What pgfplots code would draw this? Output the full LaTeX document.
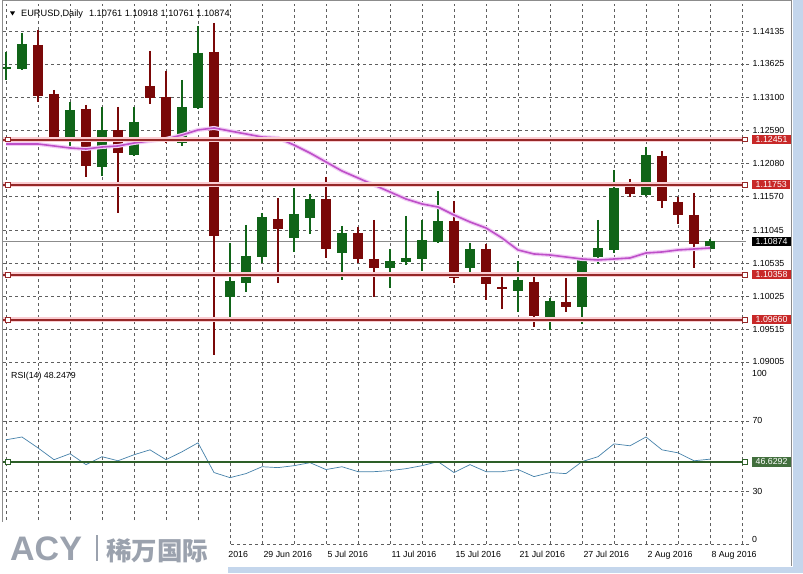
\documentclass[border=0pt]{standalone}
\usepackage{pgfplots}
\pgfplotsset{compat=1.18}
\usepackage{pgfplotstable}
\usepackage{fontspec}
\setmainfont{Liberation Sans}
\newfontfamily\cjk{Noto Sans CJK SC}
\newcommand\lbl{\fontsize{8.8}{10}\selectfont}

\definecolor{upc}{RGB}{16,100,24}
\definecolor{dnc}{RGB}{122,8,8}
\definecolor{lvl}{RGB}{150,40,40}
\definecolor{lvlglow}{RGB}{250,205,210}
\definecolor{lvlbox}{RGB}{200,40,40}
\definecolor{maline}{RGB}{190,80,200}
\definecolor{maglow}{RGB}{242,205,246}
\definecolor{rsil}{RGB}{70,130,170}
\definecolor{rsig}{RGB}{45,95,40}
\definecolor{gridc}{RGB}{95,95,95}
\definecolor{wm}{RGB}{155,162,174}
\definecolor{frameblue}{RGB}{196,214,236}

% candles: i open high low close
\pgfplotstableread{
i O H L C
0 1.13546 1.13810 1.13376 1.13577
1 1.13546 1.14104 1.13530 1.13934
4 1.12477 1.13035 1.12337 1.12911
6 1.12027 1.12957 1.11888 1.12601
8 1.12213 1.12957 1.12200 1.12725
11 1.12399 1.13376 1.12353 1.12957
12 1.12942 1.14213 1.12930 1.13794
14 1.10012 1.10849 1.09687 1.10260
15 1.10229 1.11128 1.10090 1.10648
16 1.10632 1.11314 1.10539 1.11252
18 1.10927 1.11702 1.10710 1.11299
19 1.11237 1.11609 1.10989 1.11531
21 1.10694 1.11113 1.10276 1.11004
24 1.10462 1.10756 1.10152 1.10570
25 1.10555 1.11268 1.10508 1.10617
26 1.10601 1.11206 1.10415 1.10896
27 1.10865 1.11655 1.10850 1.11190
29 1.10462 1.10849 1.10369 1.10756
32 1.10105 1.10570 1.09780 1.10276
34 1.09702 1.09997 1.09501 1.09950
36 1.09857 1.10632 1.09594 1.10601
37 1.10632 1.11206 1.10524 1.10772
38 1.10741 1.11981 1.10694 1.11702
40 1.11593 1.12337 1.11580 1.12213
44 1.10761 1.10918 1.10761 1.10874
}\upbars

\pgfplotstableread{
i O H L C
2 1.13918 1.14151 1.13035 1.13128
3 1.13159 1.13221 1.12477 1.12492
5 1.12926 1.12988 1.11872 1.12043
7 1.12601 1.12957 1.11314 1.12244
9 1.13283 1.13825 1.13004 1.13097
10 1.13112 1.13515 1.12400 1.12415
13 1.13810 1.14259 1.09113 1.10958
17 1.11221 1.11547 1.10229 1.11066
20 1.11531 1.11872 1.10617 1.10756
22 1.11004 1.11097 1.10539 1.10601
23 1.10601 1.11206 1.10012 1.10462
28 1.11190 1.11500 1.10229 1.10307
30 1.10756 1.10834 1.09966 1.10214
31 1.10167 1.10322 1.09826 1.10136
33 1.10245 1.10400 1.09547 1.09718
35 1.09935 1.10307 1.09780 1.09857
39 1.11733 1.11841 1.11562 1.11609
41 1.12198 1.12275 1.11392 1.11500
42 1.11485 1.11562 1.11144 1.11283
43 1.11283 1.11624 1.10462 1.10834
}\downbars

% moving average
\pgfplotstableread{
i v
0 1.12384
1 1.12384
2 1.12384
3 1.12353
4 1.12322
5 1.12306
6 1.12337
7 1.12353
8 1.12399
9 1.12430
10 1.12461
11 1.12523
12 1.12601
13 1.12632
14 1.12585
15 1.12539
16 1.12492
17 1.12477
18 1.12368
19 1.12244
20 1.12105
21 1.11965
22 1.11857
23 1.11748
24 1.11640
25 1.11531
26 1.11454
27 1.11407
28 1.11283
29 1.11175
30 1.11082
31 1.10927
32 1.10741
33 1.10679
34 1.10663
35 1.10632
36 1.10601
37 1.10586
38 1.10601
39 1.10617
40 1.10694
41 1.10710
42 1.10741
43 1.10756
44 1.10772
}\matab

% RSI(14)
\pgfplotstableread{
i v
0 59.2
1 60.8
2 54.6
3 47.9
4 51.3
5 45.1
6 49.6
7 47.3
8 50.7
9 53.5
10 47.9
11 52.4
12 57.5
13 40.6
14 37.7
15 40.0
16 43.9
17 43.4
18 44.5
19 46.2
20 42.3
21 43.9
22 41.1
23 41.1
24 41.7
25 42.8
26 44.5
27 46.8
28 40.6
29 45.1
30 41.1
31 41.1
32 42.3
33 38.3
34 40.6
35 40.0
36 46.8
37 49.6
38 56.9
39 55.8
40 60.8
41 53.5
42 51.8
43 47.3
44 48.2
}\rsitab

\pgfplotsset{
  chart/.style={
    scale only axis, width=743pt, anchor=south west,
    xmin=-0.1875, xmax=46.25,
    axis line style={draw=none},
    minor xtick={0,2,...,46},
    xtick style={draw=none}, minor tick length=0pt,
    grid=both,
    major grid style={gridc, line width=0.6pt, dash pattern=on 3pt off 3pt},
    minor grid style={gridc, line width=0.6pt, dash pattern=on 3pt off 3pt},
    ytick pos=right, yticklabel pos=right, tick align=outside,
    major tick length=3pt, ytick style={gridc, line width=0.6pt},
    yticklabel style={font=\lbl, anchor=west},
    clip mode=individual,
  },
  wick/.style={draw=none, mark=none, forget plot,
    error bars/.cd, y dir=minus, y explicit, error mark=none,
    error bar style={draw=#1, line width=1.2pt}},
  body/.style={draw=none, mark=none, forget plot,
    error bars/.cd, y dir=minus, y explicit, error mark=none,
    error bar style={draw=#1, line width=10.5pt}},
}

\begin{document}
\begin{tikzpicture}
\path[use as bounding box] (0pt,0pt) rectangle (803pt,573pt);
\fill[white] (0pt,0pt) rectangle (803pt,573pt);

% price window
\begin{axis}[chart, at={(3pt,207pt)}, height=362pt,
  ymin=1.089425, ymax=1.145535,
  xtick={0,2,...,46}, xticklabels={},
  ytick={1.09005,1.09515,1.10025,1.10535,1.11045,1.11570,1.12080,1.12590,1.13100,1.13625,1.14135},
  yticklabels={1.09005,1.09515,1.10025,1.10535,1.11045,1.11570,1.12080,1.12590,1.13100,1.13625,1.14135},
]
\addplot[color=black!45!white, line width=0.6pt, forget plot] coordinates {(-0.19,1.10874) (46.25,1.10874)};

\addplot[wick=upc] table[x=i, y=H, y error minus expr=\thisrow{H}-\thisrow{L}] {\upbars};
\addplot[body=upc] table[x=i, y=C, y error minus expr=\thisrow{C}-\thisrow{O}] {\upbars};
\addplot[wick=dnc] table[x=i, y=H, y error minus expr=\thisrow{H}-\thisrow{L}] {\downbars};
\addplot[body=dnc] table[x=i, y=O, y error minus expr=\thisrow{O}-\thisrow{C}] {\downbars};

\addplot[maglow, line width=4pt, forget plot] table[x=i, y=v] {\matab};
\addplot[maline, line width=1.6pt, forget plot] table[x=i, y=v] {\matab};

\foreach \lv in {1.12451,1.11753,1.10358,1.09660}{
  \addplot[lvlglow, line width=5pt, forget plot] coordinates {(-0.19,\lv) (46.25,\lv)};
  \addplot[lvl, line width=2pt, forget plot] coordinates {(-0.19,\lv) (46.25,\lv)};
  \addplot[only marks, mark=square*, mark size=2.3pt, mark options={fill=white, draw=lvl, line width=0.9pt}, forget plot]
    coordinates {(0.12,\lv) (46.2,\lv)};
}
\coordinate (l1) at (axis cs:46.25,1.12451);
\coordinate (l2) at (axis cs:46.25,1.11753);
\coordinate (l3) at (axis cs:46.25,1.10358);
\coordinate (l4) at (axis cs:46.25,1.09660);
\coordinate (cp) at (axis cs:46.25,1.10874);
\end{axis}

% RSI window
\begin{axis}[chart, at={(3pt,29pt)}, height=176pt,
  ymin=0, ymax=100,
  ytick={0,30,70}, yticklabels={{},30,70},
  xtick={12,16,...,44},
  xticklabels={\phantom{23 Jun }2016,29 Jun 2016,5 Jul 2016,11 Jul 2016,15 Jul 2016,21 Jul 2016,27 Jul 2016,2 Aug 2016,8 Aug 2016},
  xticklabel style={font=\lbl, anchor=north west, xshift=-2pt, yshift=-1pt},
]
\addplot[rsil, line width=0.7pt, forget plot] table[x=i, y=v] {\rsitab};
\addplot[rsig, line width=2.2pt, forget plot] coordinates {(-0.19,46.6292) (46.25,46.6292)};
\addplot[only marks, mark=square*, mark size=2.3pt, mark options={fill=white, draw=rsig, line width=0.9pt}, forget plot]
  coordinates {(0.12,46.6292) (46.2,46.6292)};
\coordinate (rs) at (axis cs:46.25,46.6292);
\end{axis}

% value boxes on the price scale
\foreach \c/\t in {l1/1.12451,l2/1.11753,l3/1.10358,l4/1.09660}{
  \node[fill=lvlbox, text=white, font=\lbl, anchor=west, inner xsep=3.5pt, inner ysep=1.5pt] at ([xshift=6pt]\c) {\t};
}
\node[fill=black, text=white, font=\lbl, anchor=west, inner xsep=3.5pt, inner ysep=1.5pt] at ([xshift=6pt]cp) {1.10874};
\node[fill=rsig!90!white, text=white, font=\lbl, anchor=west, inner xsep=3.5pt, inner ysep=1.5pt] at ([xshift=6pt]rs) {46.6292};
\node[font=\lbl, anchor=west, inner sep=0pt] at (752pt,200pt) {100};
\node[font=\lbl, anchor=west, inner sep=0pt] at (752pt,34pt) {0};

% window titles
\fill (10pt,561.5pt) -- (15pt,561.5pt) -- (12.5pt,557.5pt) -- cycle;
\node[font=\fontsize{9.2}{10}\selectfont, anchor=base west, inner sep=0pt] at (21pt,556.5pt) {EURUSD,Daily\hspace{6pt}1.10761 1.10918 1.10761 1.10874};
\node[font=\lbl, anchor=base west, inner sep=0pt] at (11pt,194.5pt) {RSI(14) 48.2479};

% window frame
\draw[black!45, line width=1pt] (2pt,51pt) -- (2pt,572.5pt) -- (791.5pt,572.5pt) -- (791.5pt,7pt);
\fill[frameblue] (793pt,0pt) rectangle (803pt,573pt);
\fill[frameblue] (228pt,0pt) rectangle (803pt,6pt);

% watermark
\fill[white] (0pt,0pt) rectangle (228pt,51pt);
\node[font=\fontsize{34}{34}\selectfont\bfseries, text=wm, anchor=base west, inner sep=0pt] at (10pt,13pt) {ACY};
\fill[wm] (95.5pt,12pt) rectangle (97.5pt,38pt);
\node[font=\cjk\fontsize{25.5}{26}\selectfont\bfseries, text=wm, anchor=base west, inner sep=0pt] at (106pt,12.5pt) {稀万国际};
\end{tikzpicture}
\end{document}
